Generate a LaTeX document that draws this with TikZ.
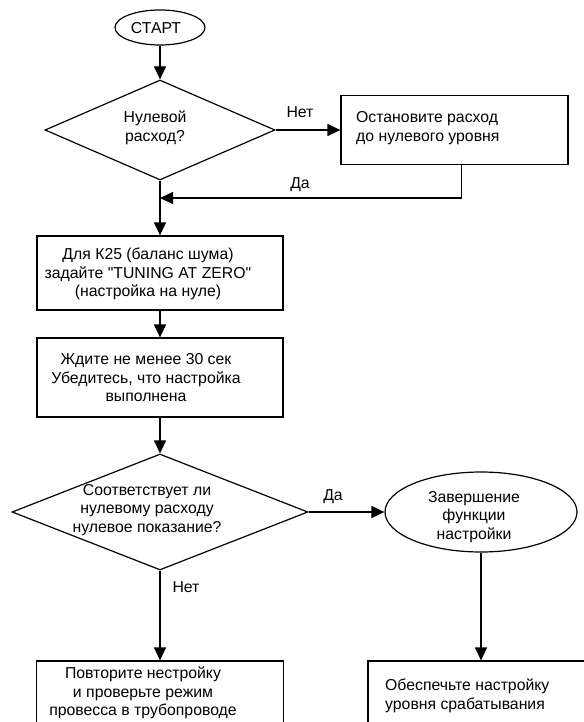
\documentclass[tikz,border=0pt]{standalone}
\usepackage{fontspec}
\setmainfont{Liberation Sans}[Ligatures=TeXOff]
\usetikzlibrary{arrows.meta, shapes.geometric}

\tikzset{
  flow/.style={-{Triangle[length=13pt, width=12pt]}, line width=1.2pt},
  box/.style={draw, line width=1.2pt, rectangle, inner sep=0pt},
  decision/.style={draw, line width=1.2pt, diamond, inner sep=0pt},
  terminal/.style={draw, line width=1.2pt, ellipse, inner sep=0pt},
  txt/.style={font=\fontsize{15.8pt}{18.5pt}\selectfont, align=center, inner sep=0pt},
}

\begin{document}
\begin{tikzpicture}[x=1pt, y=-1pt]
  \useasboundingbox (0, 0) rectangle (583, 722);
  %
  % shapes of the chart
  \node[terminal, minimum width=90pt, minimum height=35pt] at (160, 27.5) (start) {};
  \node[decision, minimum width=230pt, minimum height=100pt] at (160, 130) (q1) {};
  \node[box, minimum width=227pt, minimum height=69pt] at (454.5, 130) (stop) {};
  \node[box, minimum width=246pt, minimum height=74pt] at (160, 273) (tune) {};
  \node[box, minimum width=246pt, minimum height=79pt] at (160, 377.5) (wait) {};
  \node[decision, minimum width=296pt, minimum height=116pt] at (160, 512) (q2) {};
  \node[terminal, minimum width=192pt, minimum height=80pt] at (481, 512) (finish) {};
  \node[box, minimum width=247pt, minimum height=79pt] at (160, 700.5) (redo) {};
  \node[box, minimum width=226pt, minimum height=79pt] at (481, 700.5) (trip) {};
  %
  % texts
  \node[txt] at (156, 28) (start-t) {СТАРТ};
  \node[txt] at (155, 128) (q1-t) {Нулевой\\расход?};
  \node[txt, anchor=west, align=left] at (356, 128) (stop-t) {Остановите расход\\до нулевого уровня};
  \node[txt] at (148, 274) (tune-t) {Для К25 (баланс шума)\\задайте "TUNING AT ZERO"\\(настройка на нуле)};
  \node[txt] at (146, 378) (wait-t) {Ждите не менее 30 сек\\Убедитесь, что настройка\\выполнена};
  \node[txt] at (147, 510) (q2-t) {Соответствует ли\\нулевому расходу\\нулевое показание?};
  \node[txt] at (474, 517) (finish-t) {Завершение\\функции\\настройки};
  \node[txt] at (143, 693) (redo-t) {Повторите нестройку\\и проверьте режим\\провесса в трубопроводе};
  \node[txt, anchor=west, align=left] at (385, 696) (trip-t) {Обеспечьте настройку\\уровня срабатывания};
  %
  \node[txt] at (300, 112) (no1) {Нет};
  \node[txt] at (300, 185) (yes1) {Да};
  \node[txt] at (333, 497) (yes2) {Да};
  \node[txt] at (186, 587) (no2) {Нет};
  %
  % connectors
  \foreach \a/\b in {start/q1, q1/tune, tune/wait, wait/q2, q2/redo,
                     q1/stop, q2/finish, finish/trip} {
    \draw[flow] (\a) -- (\b);
  }
  \coordinate (join) at (160, 198);
  \draw[flow] ([xshift=7pt]stop.south) |- (join);
\end{tikzpicture}
\end{document}
